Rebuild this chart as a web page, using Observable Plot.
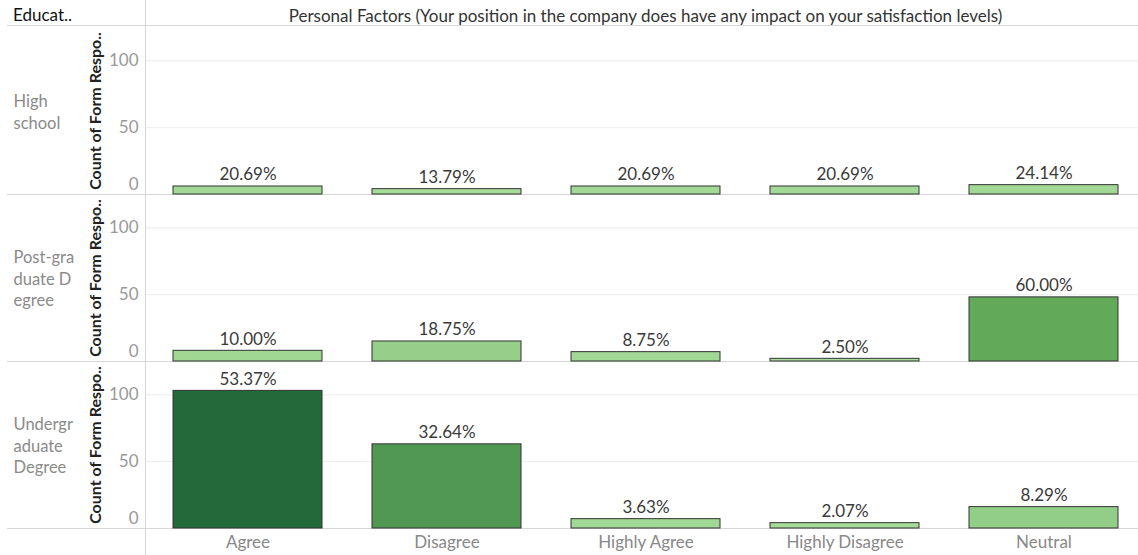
<!DOCTYPE html>
<html>
<head>
<meta charset="utf-8">
<script src="https://cdn.jsdelivr.net/npm/d3@7"></script>
<script src="https://cdn.jsdelivr.net/npm/@observablehq/plot@0.6"></script>
<style>
  html, body { margin: 0; padding: 0; background: #fff; overflow: hidden; }
  #wrap { position: relative; width: 1138px; height: 555px; font-family: Lato, "Open Sans", sans-serif; }
  #header { position: relative; height: 25px; margin-left: 7px; border-bottom: 1px solid #d6d6d6; }
  #header .left { position: absolute; left: 6px; top: 4px; font-size: 17px; color: #111; }
  #header .title { position: absolute; left: 139px; width: 999px; top: 5px; text-align: center; font-size: 17px; color: #333; }
  #vline { position: absolute; left: 145px; top: 0; width: 1px; height: 555px; background: #d6d6d6; }
</style>
</head>
<body>
<div id="wrap">
  <div id="header"><span class="left">Educat..</span><span class="title"></span></div>
  <div id="chart"></div>
  <div id="vline"></div>
</div>
<script>
const title = "Personal Factors (Your position in the company does have any impact on your satisfaction levels)";
const rowHeader = "Educat..";
const yLabel = "Count of Form Respo..";
const responses = ["Agree", "Disagree", "Highly Agree", "Highly Disagree", "Neutral"];
const educations = ["High school", "Post-graduate Degree", "Undergraduate Degree"];
const educationLabels = ["High\nschool", "Post-gra\nduate D\negree", "Undergr\naduate\nDegree"];
const highSchool = [6, 4, 6, 6, 7];
const postGraduate = [8, 15, 7, 2, 48];
const undergraduate = [103, 63, 7, 4, 16];
const yGridTicks = [50, 100];
const yZeroTick = [0];

document.querySelector("#header .title").textContent = title;
document.querySelector("#header .left").textContent = rowHeader;

const series = [highSchool, postGraduate, undergraduate];
const data = [];
series.forEach((vals, e) => {
  const total = d3.sum(vals);
  vals.forEach((v, r) => data.push({
    education: educations[e],
    response: responses[r],
    count: v,
    pct: v / total * 100
  }));
});

const plot = Plot.plot({
  width: 1138,
  height: 529,
  marginTop: 0,
  marginBottom: 27,
  marginLeft: 146,
  marginRight: 0,
  style: { fontFamily: "Lato, 'Open Sans', sans-serif", fontSize: "16px", background: "transparent", overflow: "visible" },
  x: { domain: responses, range: [146, 1145], paddingInner: 0.25, paddingOuter: 0.125, label: null },
  y: { domain: [0, 125], label: null },
  fy: { domain: educations, padding: 0, axis: null, label: null },
  color: { type: "linear", domain: [2, 48, 103], range: ["#a9de9c", "#62aa5a", "#236a3b"] },
  marks: [
    Plot.gridY(yGridTicks, { stroke: "#ececec", strokeOpacity: 1 }),
    Plot.ruleY([0], { stroke: "#d6d6d6" }),
    Plot.ruleY([0], { stroke: "#d6d6d6", dx: -139 }),
    Plot.barY(data, { x: "response", y: "count", fy: "education", fill: "count", stroke: "#333", strokeWidth: 1 }),
    Plot.text(data, { x: "response", y: "count", fy: "education", text: d => d.pct.toFixed(2) + "%", dy: -6, lineAnchor: "bottom", fill: "#3a3a3a", fontSize: 17 }),
    Plot.axisY(yGridTicks, { tickSize: 0, tickPadding: 8, fill: "#999", label: null, fontSize: 17 }),
    Plot.axisY(yZeroTick, { tickSize: 0, tickPadding: 8, dy: -10, fill: "#999", label: null, fontSize: 17 }),
    Plot.axisX({ tickSize: 0, tickPadding: 7, fill: "#888", label: null, fontSize: 17 }),
    Plot.text(educations, { fy: d => d, text: (d, i) => educationLabels[i], frameAnchor: "left", textAnchor: "start", dx: -133, fill: "#8a8a8a", lineHeight: 1.3, fontSize: 16.5 }),
    Plot.text(educations, { fy: d => d, text: () => yLabel, frameAnchor: "left", textAnchor: "middle", rotate: -90, dx: -51, fill: "#222", fontWeight: "bold", fontSize: 16 })
  ]
});
document.getElementById("chart").appendChild(plot);
</script>
</body>
</html>
